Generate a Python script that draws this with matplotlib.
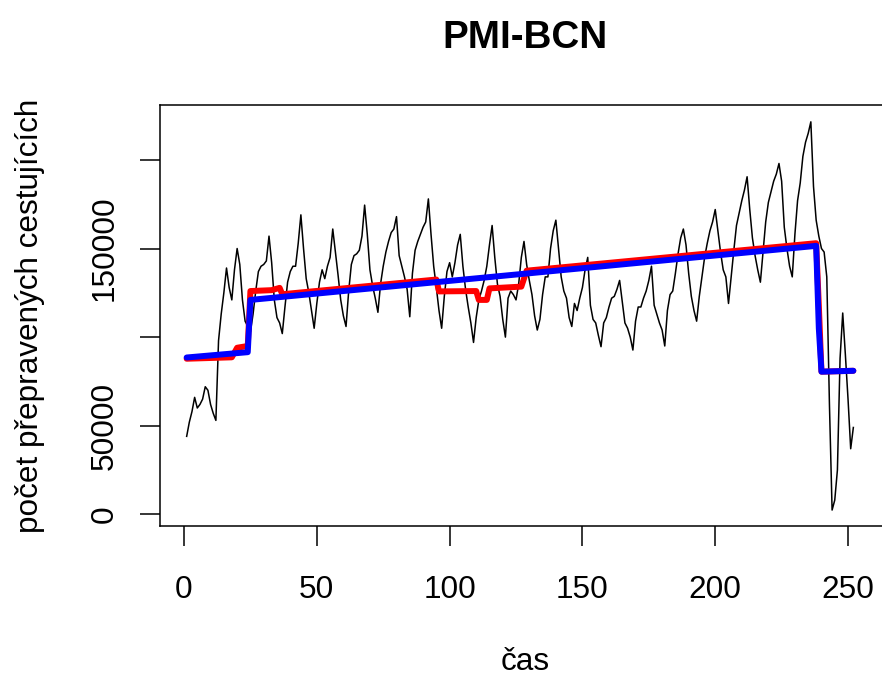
import matplotlib
matplotlib.use('Agg')
import matplotlib.pyplot as plt

plt.rcParams['font.family'] = ['Liberation Sans', 'DejaVu Sans']

# ---- data (monthly index 1..252) ----
time_idx = list(range(1, 253))
passengers = [
    44000, 52000, 58000, 66000, 60000, 62000, 65000, 72000, 70000, 62000, 57000, 53000,
    98000, 113000, 125000, 139000, 128000, 121000, 138000, 150000, 141000, 121000, 109000, 106000,
    103000, 113000, 126000, 137000, 140000, 141000, 143000, 157000, 142000, 121000, 111000, 108000,
    102000, 117000, 131000, 137000, 140000, 140000, 153000, 169000, 150000, 133000, 125000, 115000,
    105000, 119000, 131000, 138000, 133000, 140000, 145000, 161000, 148000, 135000, 121000, 112000,
    106000, 126000, 141000, 146000, 147000, 149000, 157000, 174500, 158000, 138000, 129000, 122000,
    114000, 130000, 140000, 148000, 154000, 159000, 161000, 168000, 146000, 140000, 134000, 127000,
    111500, 136000, 149000, 154000, 158000, 162000, 165000, 178000, 158000, 140000, 128000, 115000,
    105000, 123000, 137000, 142000, 134000, 142000, 152000, 158000, 140000, 127000, 117000, 108000,
    97000, 111000, 121000, 126000, 132000, 140000, 152000, 163000, 145000, 130000, 123000, 110000,
    100000, 122000, 126000, 124000, 121000, 130000, 145000, 154000, 141000, 132000, 124000, 112000,
    104000, 110000, 124000, 134000, 134000, 150000, 160000, 166000, 150000, 134000, 126000, 122000,
    111000, 106000, 119000, 115000, 122000, 128000, 138000, 145000, 118000, 110000, 108000, 101000,
    94600, 108000, 111000, 117000, 122000, 123000, 127000, 132000, 120000, 108000, 105000, 100000,
    92700, 109000, 117000, 117000, 122000, 126000, 132000, 140000, 118000, 113000, 108000, 104000,
    95000, 115000, 124000, 126000, 136000, 147000, 156000, 161000, 152000, 136000, 123000, 115000,
    109000, 123000, 134000, 145000, 153000, 160000, 165000, 172000, 160000, 148000, 138000, 134000,
    119000, 134000, 149000, 163000, 170000, 177000, 183000, 190500, 172000, 156000, 146000, 138000,
    131000, 148000, 165000, 176000, 182000, 188000, 192000, 198000, 188000, 162000, 150000, 140000,
    134000, 158000, 177000, 187000, 202000, 210000, 215000, 221500, 185000, 166000, 157000, 150000,
    148000, 134000, 62000, 2400, 8000, 25000, 88000, 113600, 90000, 65000, 37000, 49000,
]

# fitted model (blue) - break points
blue_x = [1, 24, 25, 238, 239, 240, 252]
blue_y = [88500, 91500, 121000, 151500, 105000, 80500, 81000]

# alternative fit (red) - break points
red_x = [1, 18, 20, 24, 25, 33, 36, 37, 95, 96, 110, 111, 114, 115, 127, 128, 129, 238, 239, 240, 252]
red_y = [87800, 88600, 94000, 95000, 126000, 126500, 127800, 124200, 132500, 125800, 126000,
         121000, 121000, 127500, 128500, 133000, 137500, 153000, 118000, 80500, 81000]

x_ticks = [0, 50, 100, 150, 200, 250]
y_ticks = [0, 50000, 100000, 150000, 200000]
y_tick_labels = ['0', '50000', '', '150000', '']

W, H = 882, 677
fig = plt.figure(figsize=(W / 100, H / 100), dpi=100)
L, R, T, B = 160, 890, 105, 525.7
ax = fig.add_axes([L / W, 1 - B / H, (R - L) / W, (B - T) / H])

ax.plot(time_idx, passengers, color='black', lw=1.1, solid_joinstyle='round')
ax.plot(red_x, red_y, color='#FF0000', lw=4.3, solid_capstyle='round', solid_joinstyle='round')
ax.plot(blue_x, blue_y, color='#0000FF', lw=4.3, solid_capstyle='round', solid_joinstyle='round')

ax.set_xlim(-9.04, 265.8)
ax.set_ylim(-6430, 231000)

fs = 22.7
ax.set_xticks(x_ticks)
ax.set_xticklabels([str(v) for v in x_ticks], fontsize=fs)
ax.set_yticks(y_ticks)
ax.set_yticklabels(y_tick_labels, fontsize=fs, rotation=90, va='center')
ax.tick_params(axis='x', length=14.4, width=1.1, pad=21.0, color='black')
ax.tick_params(axis='y', length=14.4, width=1.1, pad=14.5, color='black')

for s in ax.spines.values():
    s.set_linewidth(1.1)
    s.set_color('black')

fig.text(525 / W, 1 - 48 / H, 'PMI-BCN', ha='center', va='baseline',
         fontsize=27.8, fontweight='bold')
fig.text(525 / W, 1 - 670 / H, 'čas', ha='center', va='baseline', fontsize=fs)
fig.text(38.5 / W, 1 - 315.4 / H, 'počet přepravených cestujících', rotation=90,
         rotation_mode='anchor', ha='center', va='baseline', fontsize=fs)

fig.savefig('out.png', dpi=100)
